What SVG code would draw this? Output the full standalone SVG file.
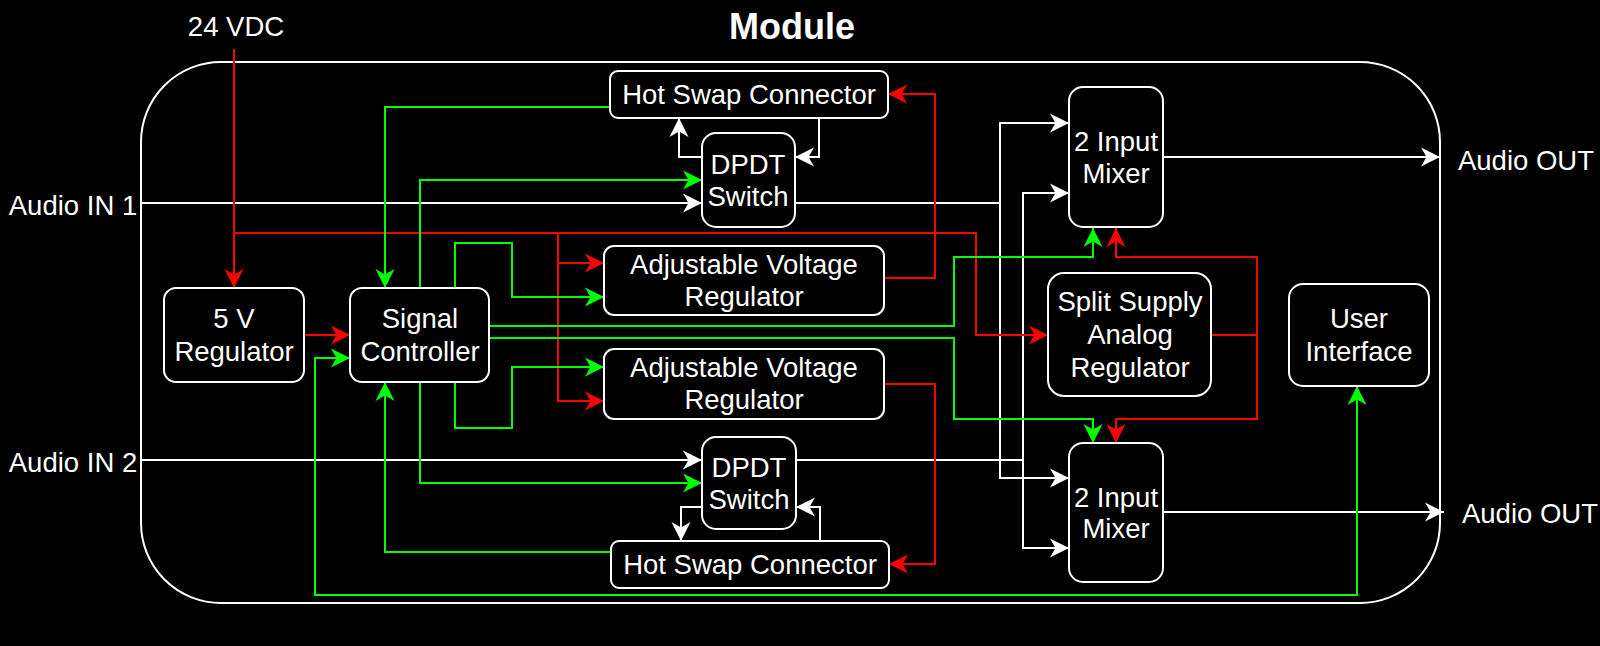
<svg xmlns="http://www.w3.org/2000/svg" width="1600" height="646" viewBox="0 0 1600 646">
<style>
text{font-family:"Liberation Sans",Arial,sans-serif;font-size:27.5px;fill:#fff;text-anchor:middle}
.title{font-size:36px;font-weight:bold}
.node rect{fill:#000;stroke:#fff;stroke-width:2}
.w{fill:none;stroke:#fff;stroke-width:2;marker-end:url(#aw)}
.r{fill:none;stroke:#f00;stroke-width:2;marker-end:url(#ar)}
.g{fill:none;stroke:#0f0;stroke-width:2;marker-end:url(#ag)}
</style>
<defs>
<marker id="aw" viewBox="-20 -11 21 22" refX="0" refY="0" markerWidth="21" markerHeight="22" markerUnits="userSpaceOnUse" orient="auto-start-reverse"><path d="M0,0 L-19,-9.5 L-13.5,0 L-19,9.5 Z" fill="#fff"/></marker>
<marker id="ar" viewBox="-20 -11 21 22" refX="0" refY="0" markerWidth="21" markerHeight="22" markerUnits="userSpaceOnUse" orient="auto-start-reverse"><path d="M0,0 L-19,-9.5 L-13.5,0 L-19,9.5 Z" fill="#f00"/></marker>
<marker id="ag" viewBox="-20 -11 21 22" refX="0" refY="0" markerWidth="21" markerHeight="22" markerUnits="userSpaceOnUse" orient="auto-start-reverse"><path d="M0,0 L-19,-9.5 L-13.5,0 L-19,9.5 Z" fill="#0f0"/></marker>
</defs>
<rect width="1600" height="646" fill="#000"/>
<g id="module">
<rect x="141" y="62" width="1299" height="541" rx="80" ry="80" fill="none" stroke="#fff" stroke-width="2"/>
<text class="title" x="792" y="39">Module</text>
</g>
<g id="labels">
<text x="236" y="36">24 VDC</text>
<text x="73" y="215">Audio IN 1</text>
<text x="73" y="472">Audio IN 2</text>
<text x="1526" y="170">Audio OUT</text>
<text x="1530" y="523">Audio OUT</text>
</g>
<g id="connectors">
<path class="w" d="M141,203 H702"/>
<path class="w" d="M141,460 H702"/>
<path class="w" d="M702,157 H679 V118"/>
<path class="w" d="M819,118 V157 H795"/>
<path class="w" d="M702,507 H681 V541"/>
<path class="w" d="M820,541 V507 H796"/>
<path class="w" d="M795,203 H1000 V123 H1069"/>
<path class="w" d="M1000,203 V478 H1069"/>
<path class="w" d="M796,460 H1023 V193 H1069"/>
<path class="w" d="M1023,460 V548 H1069"/>
<path class="w" d="M1163,157 H1440"/>
<path class="w" d="M1163,512 H1444"/>
<path class="r" d="M234,49 V288"/>
<path class="r" d="M234,233 H976 V335 H1048"/>
<path class="r" d="M558,233 V263 H604"/>
<path class="r" d="M558,263 V401 H604"/>
<path class="r" d="M304,335 H350"/>
<path class="r" d="M884,278 H935 V94 H888"/>
<path class="r" d="M884,384 H935 V564 H889"/>
<path class="r" d="M1211,335 H1257 V257 H1116 V228"/>
<path class="r" d="M1257,335 V419 H1116 V443"/>
<path class="g" d="M610,107 H385 V288"/>
<path class="g" d="M420,288 V180 H702"/>
<path class="g" d="M455,288 V243 H512 V297 H604"/>
<path class="g" d="M455,382 V428 H512 V367 H604"/>
<path class="g" d="M420,382 V483 H702"/>
<path class="g" d="M611,552 H385 V382"/>
<path class="g" d="M489,326 H954 V257 H1093 V228"/>
<path class="g" d="M489,338 H954 V419 H1093 V443"/>
<path class="g" d="M350,358 H315 V595 H1357 V386" marker-start="url(#ag)"/>
</g>
<g id="reg5v" class="node"><rect x="164" y="288" width="140" height="94" rx="12"/><text x="234" y="328">5 V</text><text x="234" y="361">Regulator</text></g>
<g id="signal-controller" class="node"><rect x="350" y="288" width="139" height="94" rx="12"/><text x="420" y="328">Signal</text><text x="420" y="361">Controller</text></g>
<g id="hsc1" class="node"><rect x="610" y="71" width="278" height="47" rx="8"/><text x="749" y="104">Hot Swap Connector</text></g>
<g id="dpdt1" class="node"><rect x="702" y="133" width="93" height="94" rx="14"/><text x="748" y="174">DPDT</text><text x="748" y="206">Switch</text></g>
<g id="avr1" class="node"><rect x="604" y="246" width="280" height="69" rx="10"/><text x="744" y="274">Adjustable Voltage</text><text x="744" y="306">Regulator</text></g>
<g id="avr2" class="node"><rect x="604" y="349" width="280" height="70" rx="10"/><text x="744" y="377">Adjustable Voltage</text><text x="744" y="409">Regulator</text></g>
<g id="dpdt2" class="node"><rect x="702" y="437" width="94" height="92" rx="14"/><text x="749" y="477">DPDT</text><text x="749" y="509">Switch</text></g>
<g id="hsc2" class="node"><rect x="611" y="541" width="278" height="47" rx="8"/><text x="750" y="574">Hot Swap Connector</text></g>
<g id="mixer1" class="node"><rect x="1069" y="87" width="94" height="140" rx="14"/><text x="1116" y="151">2 Input</text><text x="1116" y="183">Mixer</text></g>
<g id="split-supply" class="node"><rect x="1048" y="273" width="163" height="123" rx="16"/><text x="1130" y="311">Split Supply</text><text x="1130" y="344">Analog</text><text x="1130" y="377">Regulator</text></g>
<g id="mixer2" class="node"><rect x="1069" y="443" width="94" height="139" rx="14"/><text x="1116" y="507">2 Input</text><text x="1116" y="538">Mixer</text></g>
<g id="user-interface" class="node"><rect x="1289" y="284" width="140" height="102" rx="14"/><text x="1359" y="328">User</text><text x="1359" y="361">Interface</text></g>
</svg>
